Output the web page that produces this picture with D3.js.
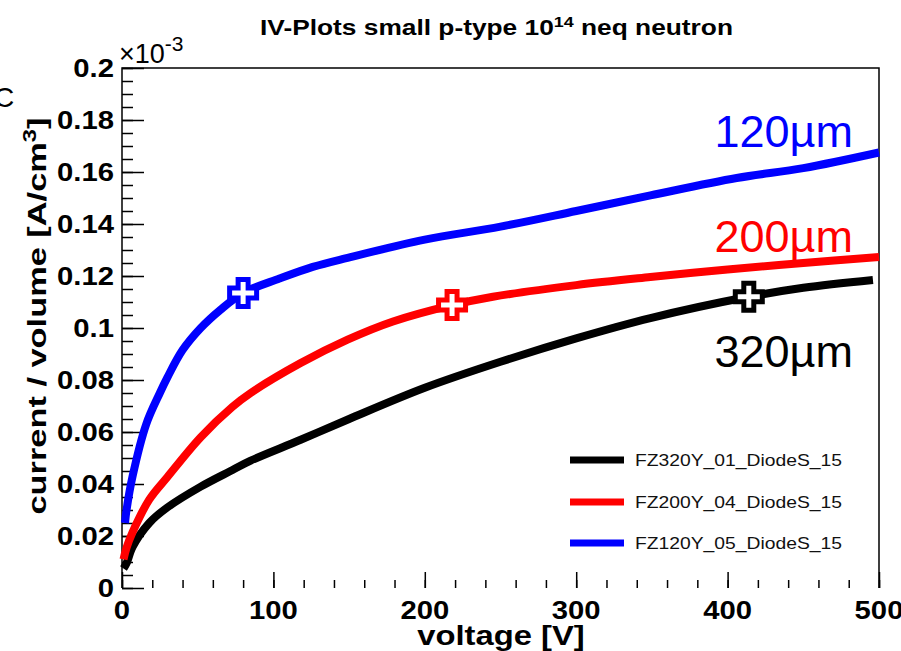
<!DOCTYPE html>
<html>
<head>
<meta charset="utf-8">
<script src="https://cdn.jsdelivr.net/npm/d3@7"></script>
<style>
  body { margin: 0; background: #fff; }
  text { font-family: "Liberation Sans", Arial, sans-serif; }
</style>
</head>
<body>
<div id="chart"></div>
<script>
// IV curves, current/volume in units of 1e-3 A/cm^3 vs bias voltage [V]
var seriesNames = ["FZ320Y_01_DiodeS_15", "FZ200Y_04_DiodeS_15", "FZ120Y_05_DiodeS_15"];
var seriesColors = ["#000000", "#ff0000", "#0000ff"];
var thicknessLabels = ["320µm", "200µm", "120µm"];

var v320 = [1, 3, 7, 18, 30, 52, 73, 85, 118, 150, 200, 250, 300, 349, 414, 450, 496];
var i320 = [0.0075, 0.0095, 0.0158, 0.025, 0.031, 0.039, 0.0454, 0.049, 0.057, 0.065, 0.077, 0.087, 0.096, 0.1038, 0.112, 0.1155, 0.1185];

var v200 = [1, 3, 7, 18, 30, 52, 73, 85, 118, 149, 179, 218, 245, 300, 349, 400, 450, 500];
var i200 = [0.011, 0.0155, 0.0215, 0.034, 0.0427, 0.058, 0.0697, 0.075, 0.0865, 0.0955, 0.1025, 0.1088, 0.112, 0.1165, 0.1196, 0.1225, 0.125, 0.1273];

var v120 = [2, 3, 7, 16, 25, 30, 40, 52, 65, 80, 104, 126, 149, 200, 250, 300, 349, 406, 450, 500];
var i120 = [0.025, 0.030, 0.043, 0.063, 0.075, 0.081, 0.0915, 0.100, 0.107, 0.1135, 0.119, 0.1235, 0.127, 0.134, 0.139, 0.145, 0.151, 0.1577, 0.1615, 0.1675];

// highlighted points (open crosses)
var markV = [414, 218, 80];
var markI = [0.112, 0.1088, 0.1135];

var xTicks = [0, 100, 200, 300, 400, 500];
var xTickLabels = ["0", "100", "200", "300", "400", "500"];
var yTicks = [0, 0.02, 0.04, 0.06, 0.08, 0.1, 0.12, 0.14, 0.16, 0.18, 0.2];
var yTickLabels = ["0", "0.02", "0.04", "0.06", "0.08", "0.1", "0.12", "0.14", "0.16", "0.18", "0.2"];

var W = 901, H = 651;
var fL = 122, fR = 879, fT = 68, fB = 588;

var svg = d3.select("#chart").append("svg")
    .attr("width", W).attr("height", H);
svg.append("rect").attr("width", W).attr("height", H).attr("fill", "#fff");

var x = d3.scaleLinear().domain([0, 500]).range([fL, fR]);
var y = d3.scaleLinear().domain([0, 0.2]).range([fB, fT]);

// stretch text to a wider look like the ROOT output
function stretch(sel, k) {
    sel.each(function() {
        var len = this.getComputedTextLength();
        d3.select(this).attr("textLength", len * k).attr("lengthAdjust", "spacingAndGlyphs");
    });
}

/* frame: left, top, right (no bottom line in the original) */
svg.append("path")
    .attr("d", "M" + fL + "," + fB + "V" + fT + "H" + fR + "V" + fB)
    .attr("fill", "none").attr("stroke", "#000").attr("stroke-width", 1.5);

/* y ticks inside the frame */
var yMinor = d3.range(0, 0.2001, 0.005);
svg.append("g").attr("transform", "translate(" + fL + ",0)")
    .call(d3.axisRight(y).tickValues(yMinor).tickSize(11).tickFormat(""))
    .call(function(g) { g.select(".domain").remove(); g.selectAll("line").attr("stroke-width", 1.5); });
svg.append("g").attr("transform", "translate(" + fL + ",0)")
    .call(d3.axisRight(y).tickValues(yTicks).tickSize(22).tickFormat(""))
    .call(function(g) { g.select(".domain").remove(); g.selectAll("line").attr("stroke-width", 1.5); });

/* x ticks pointing up */
var xMinor = d3.range(0, 501, 20);
svg.append("g").attr("transform", "translate(0," + fB + ")")
    .call(d3.axisTop(x).tickValues(xMinor).tickSize(8).tickFormat(""))
    .call(function(g) { g.select(".domain").remove(); g.selectAll("line").attr("stroke-width", 1.5); });
svg.append("g").attr("transform", "translate(0," + fB + ")")
    .call(d3.axisTop(x).tickValues(xTicks).tickSize(16).tickFormat(""))
    .call(function(g) { g.select(".domain").remove(); g.selectAll("line").attr("stroke-width", 1.5); });

/* tick labels */
svg.selectAll(".ylab").data(yTicks).enter().append("text")
    .attr("class", "ylab")
    .attr("x", 114).attr("y", function(d) { return y(d) + 9; })
    .attr("text-anchor", "end")
    .attr("font-size", 25).attr("font-weight", "bold")
    .text(function(d, i) { return yTickLabels[i]; })
    .call(stretch, 1.17);

svg.selectAll(".xlab").data(xTicks).enter().append("text")
    .attr("class", "xlab")
    .attr("x", function(d) { return x(d); }).attr("y", 619)
    .attr("text-anchor", "middle")
    .attr("font-size", 25).attr("font-weight", "bold")
    .text(function(d, i) { return xTickLabels[i]; })
    .call(stretch, 1.17);

/* exponent */
var expo = svg.append("text").attr("x", 119).attr("y", 63).attr("font-size", 27);
expo.append("tspan").text("×10");
expo.append("tspan").attr("dy", -12).attr("font-size", 21).text("-3");

/* axis titles */
svg.append("text")
    .attr("x", 501).attr("y", 645)
    .attr("text-anchor", "middle")
    .attr("font-size", 28).attr("font-weight", "bold")
    .text("voltage [V]")
    .call(stretch, 1.17);

var yt = svg.append("text")
    .attr("transform", "translate(46,316) rotate(-90)")
    .attr("text-anchor", "middle")
    .attr("font-size", 26).attr("font-weight", "bold");
yt.append("tspan").text("current / volume [A/cm");
yt.append("tspan").attr("dy", -10).attr("font-size", 18).text("3");
yt.append("tspan").attr("dy", 10).text("]");
yt.attr("textLength", 397).attr("lengthAdjust", "spacingAndGlyphs");

/* title */
var title = svg.append("text")
    .attr("x", 260).attr("y", 35)
    .attr("font-size", 22).attr("font-weight", "bold");
title.append("tspan").text("IV-Plots small p-type 10");
title.append("tspan").attr("dy", -8).attr("font-size", 15).text("14");
title.append("tspan").attr("dy", 8).text(" neq neutron");
title.attr("textLength", 473).attr("lengthAdjust", "spacingAndGlyphs");

/* stray letter at the left edge */
svg.append("text").attr("x", -6).attr("y", 107).attr("font-size", 28).text("C");

/* curves */
var volts = [v320, v200, v120];
var currents = [i320, i200, i120];
var line = d3.line()
    .x(function(d) { return x(d[0]); })
    .y(function(d) { return y(d[1]); })
    .curve(d3.curveCatmullRom.alpha(0.5));

volts.forEach(function(vs, s) {
    var pts = vs.map(function(v, i) { return [v, currents[s][i]]; });
    svg.append("path")
        .attr("d", line(pts))
        .attr("fill", "none")
        .attr("stroke", seriesColors[s])
        .attr("stroke-width", 8);
});

/* open cross markers */
function cross(a, b) {
    return "M" + (-b) + "," + (-a) + "H" + b + "V" + (-b) + "H" + a + "V" + b + "H" + b + "V" + a +
        "H" + (-b) + "V" + b + "H" + (-a) + "V" + (-b) + "H" + (-b) + "Z";
}
markV.forEach(function(v, s) {
    var g = svg.append("g").attr("transform", "translate(" + x(v) + "," + y(markI[s]) + ")");
    g.append("path").attr("d", cross(16, 7.5)).attr("fill", seriesColors[s]);
    g.append("path").attr("d", cross(11, 2.5)).attr("fill", "#fff");
});

/* thickness labels */
var labelY = [367, 252, 147];
thicknessLabels.forEach(function(t, s) {
    svg.append("text")
        .attr("x", 853).attr("y", labelY[s])
        .attr("text-anchor", "end")
        .attr("font-size", 45)
        .attr("fill", seriesColors[s])
        .text(t);
});

/* legend */
var legY = [460, 502, 543];
seriesNames.forEach(function(n, s) {
    svg.append("line")
        .attr("x1", 570).attr("x2", 624)
        .attr("y1", legY[s]).attr("y2", legY[s])
        .attr("stroke", seriesColors[s]).attr("stroke-width", 7);
    svg.append("text")
        .attr("x", 635).attr("y", legY[s] + 6)
        .attr("font-size", 17).attr("fill", "#111")
        .attr("textLength", 207).attr("lengthAdjust", "spacingAndGlyphs")
        .text(n);
});
</script>
</body>
</html>
